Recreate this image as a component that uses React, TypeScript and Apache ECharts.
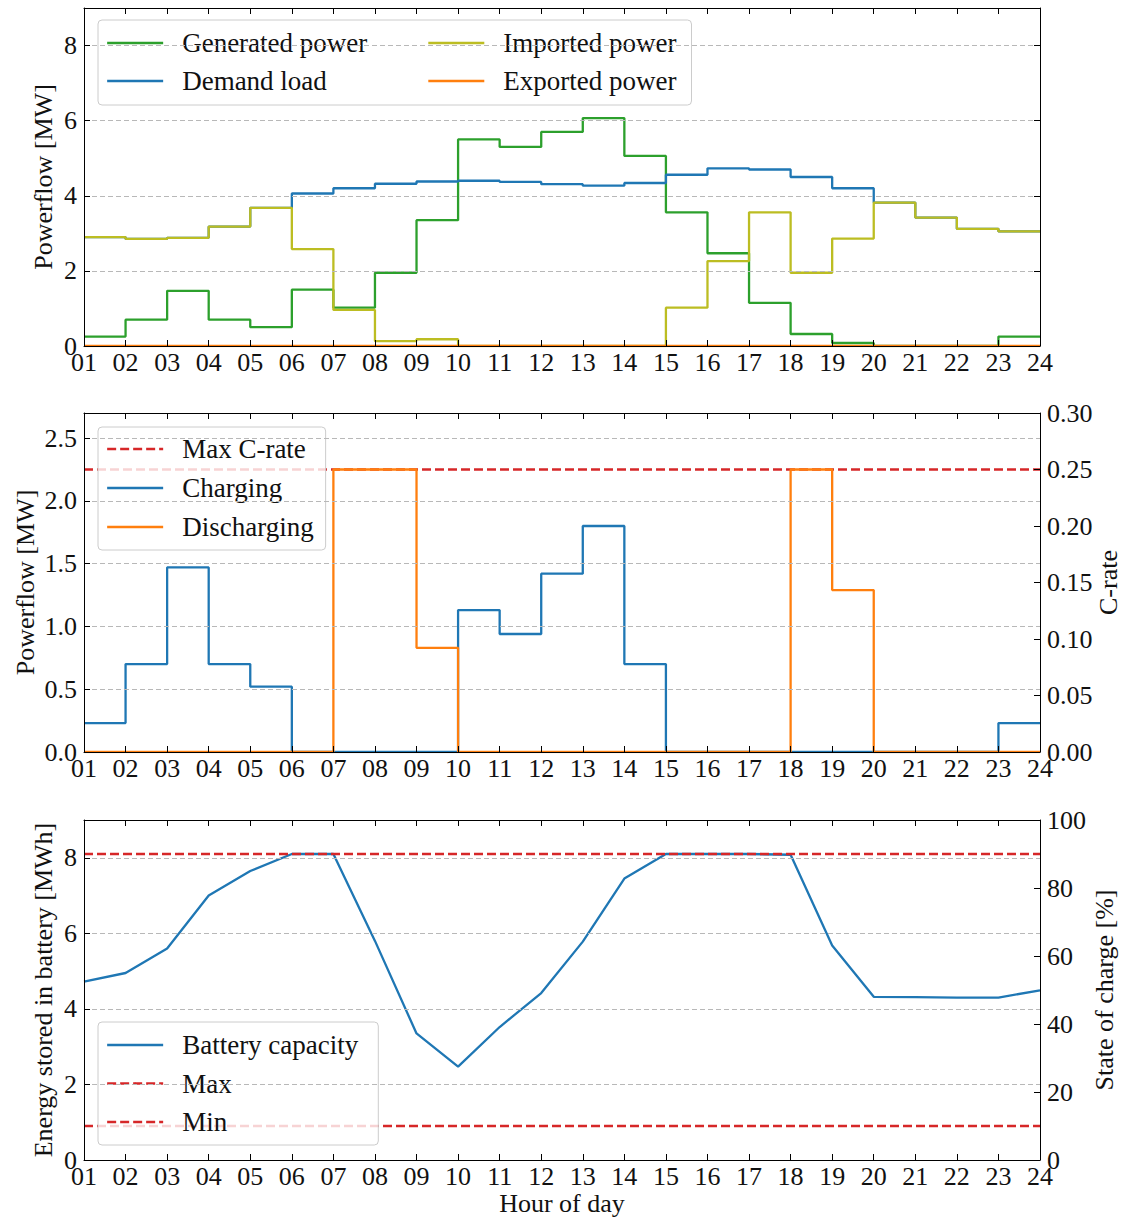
import React, { useEffect, useRef } from "react";
import * as echarts from "echarts";

// ---------- data ----------
const hours = ["01", "02", "03", "04", "05", "06", "07", "08", "09", "10", "11", "12",
  "13", "14", "15", "16", "17", "18", "19", "20", "21", "22", "23", "24"];

// Panel 1: power flows [MW] (value held from the hour until the next one)
const generatedPower = [0.25, 0.7, 1.47, 0.7, 0.5, 1.5, 1.02, 1.95, 3.35, 5.5, 5.3, 5.7,
  6.07, 5.06, 3.56, 2.47, 1.15, 0.32, 0.08, 0, 0, 0, 0.25, 0.25];
const demandLoad = [2.9, 2.85, 2.88, 3.18, 3.68, 4.06, 4.2, 4.32, 4.38, 4.4, 4.37, 4.31,
  4.27, 4.34, 4.56, 4.73, 4.7, 4.5, 4.2, 3.82, 3.42, 3.12, 3.05, 3.05];
const importedPower = [2.9, 2.85, 2.88, 3.18, 3.68, 2.58, 0.96, 0.13, 0.18, 0, 0, 0,
  0, 0, 1.02, 2.26, 3.56, 1.95, 2.86, 3.82, 3.42, 3.12, 3.05, 3.05];
const exportedPower = [0, 0, 0, 0, 0, 0, 0, 0, 0, 0, 0, 0,
  0, 0, 0, 0, 0, 0, 0, 0, 0, 0, 0, 0];

// Panel 2: battery power [MW]
const charging = [0.23, 0.7, 1.47, 0.7, 0.52, 0, 0, 0, 0, 1.13, 0.94, 1.42,
  1.8, 0.7, 0, 0, 0, 0, 0, 0, 0, 0, 0.23, 0.23];
const discharging = [0, 0, 0, 0, 0, 0, 2.25, 2.25, 0.83, 0, 0, 0,
  0, 0, 0, 0, 0, 2.25, 1.29, 0, 0, 0, 0, 0];
const maxCRatePowerMW = 2.25;

// Panel 3: energy stored [MWh]
const batteryCapacity = [4.72, 4.95, 5.6, 7.0, 7.65, 8.1, 8.1, 5.8, 3.35, 2.47, 3.52, 4.42,
  5.78, 7.45, 8.1, 8.1, 8.1, 8.08, 5.68, 4.32, 4.31, 4.3, 4.3, 4.49];
const socMaxMWh = 8.1;
const socMinMWh = 0.9;

// axis ranges
const panel1Max = 9;
const panel2Max = 2.7;
const cRateMax = 0.3;
const panel3Max = 9;
const socPercentMax = 100;

// ---------- styles ----------
const FONT = "'Liberation Serif', 'Times New Roman', serif";
const TXT = "#111111";
const C_BLUE = "#1f77b4";
const C_ORANGE = "#ff7f0e";
const C_GREEN = "#2ca02c";
const C_OLIVE = "#bcbd22";
const C_RED = "#d62728";
const LW = 2.3;

const GRID_LEFT = 84;
const GRID_W = 956;

function bottomX(gridIndex: number, name?: string) {
  return {
    type: "category",
    gridIndex,
    data: hours,
    boundaryGap: false,
    position: "bottom",
    axisLine: { show: true, onZero: false, lineStyle: { color: "#000", width: 1 } },
    axisTick: { show: true, inside: true, length: 6, interval: 0, lineStyle: { color: "#000", width: 1 } },
    axisLabel: { show: true, interval: 0, margin: 3, fontFamily: FONT, fontSize: 26, color: TXT, lineHeight: 26 },
    splitLine: { show: false },
    name: name || "",
    nameLocation: "middle",
    nameGap: 30,
    nameMoveOverlap: false,
    nameTextStyle: { fontFamily: FONT, fontSize: 26, color: TXT, lineHeight: 26 },
    z: 5,
  };
}

function topX(gridIndex: number) {
  return {
    type: "category",
    gridIndex,
    data: hours,
    boundaryGap: false,
    position: "top",
    axisLine: { show: true, onZero: false, lineStyle: { color: "#000", width: 1 } },
    axisTick: { show: true, inside: true, length: 6, interval: 0, lineStyle: { color: "#000", width: 1 } },
    axisLabel: { show: false },
    splitLine: { show: false },
    z: 5,
  };
}

function leftY(gridIndex: number, max: number, interval: number, digits: number, name: string, nameGap: number) {
  return {
    type: "value",
    gridIndex,
    position: "left",
    min: 0,
    max,
    interval,
    axisLine: { show: true, onZero: false, lineStyle: { color: "#000", width: 1 } },
    axisTick: { show: true, inside: true, length: 6, lineStyle: { color: "#000", width: 1 } },
    axisLabel: {
      margin: 7,
      showMaxLabel: false,
      fontFamily: FONT,
      fontSize: 26,
      color: TXT,
      formatter: (v: number) => v.toFixed(digits),
    },
    splitLine: {
      show: true,
      showMinLine: false,
      showMaxLine: false,
      lineStyle: { color: "#b8b8b8", width: 1, type: [5, 3] },
    },
    name,
    nameLocation: "middle",
    nameGap,
    nameMoveOverlap: false,
    nameTextStyle: { fontFamily: FONT, fontSize: 26, color: TXT, lineHeight: 26 },
    z: 5,
  };
}

function rightY(gridIndex: number, max: number, interval: number, showLabels: boolean, digits: number, name: string, nameGap: number) {
  return {
    type: "value",
    gridIndex,
    position: "right",
    min: 0,
    max,
    interval,
    axisLine: { show: true, onZero: false, lineStyle: { color: "#000", width: 1 } },
    axisTick: { show: true, inside: true, length: 6, lineStyle: { color: "#000", width: 1 } },
    axisLabel: {
      show: showLabels,
      margin: 7,
      fontFamily: FONT,
      fontSize: 26,
      color: TXT,
      formatter: (v: number) => v.toFixed(digits),
    },
    splitLine: { show: false },
    name,
    nameLocation: "middle",
    nameGap,
    nameMoveOverlap: false,
    nameTextStyle: { fontFamily: FONT, fontSize: 26, color: TXT, lineHeight: 26 },
    z: 5,
  };
}

function stepSeries(name: string, data: number[], color: string, axisIdx: number) {
  return {
    name,
    type: "line",
    step: "end",
    xAxisIndex: axisIdx,
    yAxisIndex: axisIdx,
    data,
    symbol: "none",
    showSymbol: false,
    lineStyle: { color, width: LW },
    itemStyle: { color, borderWidth: 0 },
    emphasis: { disabled: true },
  };
}

function hLineSeries(name: string, value: number, axisIdx: number) {
  return {
    name,
    type: "line",
    xAxisIndex: axisIdx,
    yAxisIndex: axisIdx,
    data: [[hours[0], value], [hours[hours.length - 1], value]],
    symbol: "none",
    showSymbol: false,
    lineStyle: { color: C_RED, width: LW, type: [9, 4] },
    itemStyle: { color: C_RED, borderWidth: 0 },
    emphasis: { disabled: true },
  };
}

const legendBase = {
  itemWidth: 56,
  itemHeight: 2,
  selectedMode: false,
  backgroundColor: "rgba(255,255,255,0.8)",
  borderColor: "#cccccc",
  borderWidth: 1,
  borderRadius: 4,
  itemStyle: { borderWidth: 0 },
  lineStyle: { width: LW },
  textStyle: { fontFamily: FONT, fontSize: 27, color: TXT, lineHeight: 28, padding: [0, 0, 0, 14] },
};

export default function App() {
  const ref = useRef<HTMLDivElement>(null);

  useEffect(() => {
    if (!ref.current) return;
    const chart = echarts.init(ref.current, undefined, { renderer: "svg" });
    const option = {
      animation: false,
      backgroundColor: "#ffffff",
      grid: [
        { left: GRID_LEFT, top: 8, width: GRID_W, height: 338, outerBoundsMode: "none", containLabel: false },
        { left: GRID_LEFT, top: 413, width: GRID_W, height: 339, outerBoundsMode: "none", containLabel: false },
        { left: GRID_LEFT, top: 820, width: GRID_W, height: 340, outerBoundsMode: "none", containLabel: false },
      ],
      xAxis: [
        bottomX(0), topX(0),
        bottomX(1), topX(1),
        bottomX(2, "Hour of day"), topX(2),
      ],
      yAxis: [
        leftY(0, panel1Max, 2, 0, "Powerflow [MW]", 28),
        rightY(0, panel1Max, 2, false, 0, "", 0),
        leftY(1, panel2Max, 0.5, 1, "Powerflow [MW]", 46),
        rightY(1, cRateMax, 0.05, true, 2, "C-rate", 55),
        leftY(2, panel3Max, 2, 0, "Energy stored in battery [MWh]", 28),
        rightY(2, socPercentMax, 20, true, 0, "State of charge [%]", 51),
      ],
      legend: [
        {
          ...legendBase,
          left: 98,
          top: 20,
          orient: "horizontal",
          width: 600,
          itemGap: 10,
          padding: [9, 15, 10, 8],
          data: [
            { name: "Generated power", textStyle: { width: 235 } },
            { name: "Imported power" },
            { name: "Demand load", textStyle: { width: 235 } },
            { name: "Exported power" },
          ],
        },
        {
          ...legendBase,
          left: 98,
          top: 427,
          orient: "vertical",
          itemGap: 11,
          padding: [8, 12, 9, 8],
          data: ["Max C-rate", "Charging", "Discharging"],
        },
        {
          ...legendBase,
          left: 98,
          top: 1022,
          orient: "vertical",
          itemGap: 10.5,
          padding: [9, 20, 9, 8],
          data: ["Battery capacity", "Max", "Min"],
        },
      ],
      series: [
        stepSeries("Generated power", generatedPower, C_GREEN, 0),
        stepSeries("Demand load", demandLoad, C_BLUE, 0),
        stepSeries("Imported power", importedPower, C_OLIVE, 0),
        stepSeries("Exported power", exportedPower, C_ORANGE, 0),

        hLineSeries("Max C-rate", maxCRatePowerMW, 2),
        stepSeries("Charging", charging, C_BLUE, 2),
        stepSeries("Discharging", discharging, C_ORANGE, 2),

        {
          name: "Battery capacity",
          type: "line",
          xAxisIndex: 4,
          yAxisIndex: 4,
          data: batteryCapacity,
          symbol: "none",
          showSymbol: false,
          lineStyle: { color: C_BLUE, width: LW },
          itemStyle: { color: C_BLUE, borderWidth: 0 },
          emphasis: { disabled: true },
        },
        hLineSeries("Max", socMaxMWh, 4),
        hLineSeries("Min", socMinMWh, 4),
      ],
    };
    chart.setOption(option as any);
    return () => {
      chart.dispose();
    };
  }, []);

  return (
    <div
      ref={ref}
      style={{ position: "absolute", left: 0, top: 0, width: 1128, height: 1223, background: "#fff" }}
    />
  );
}
